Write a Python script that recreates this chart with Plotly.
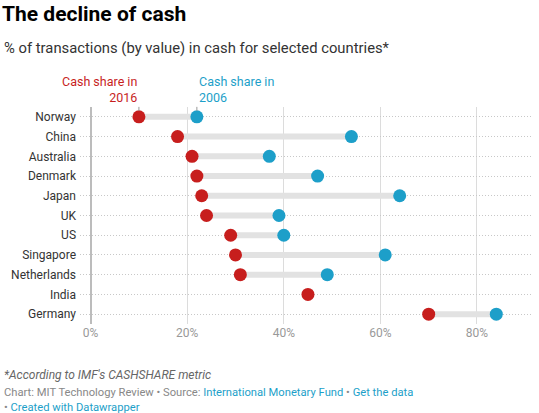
import plotly.graph_objects as go

countries = ['Norway', 'China', 'Australia', 'Denmark', 'Japan', 'UK', 'US',
             'Singapore', 'Netherlands', 'India', 'Germany']
share_2016 = [10, 18, 21, 22, 23, 24, 29, 30, 31, 45, 70]
share_2006 = [22, 54, 37, 47, 64, 39, 40, 61, 49, None, 84]
tick_vals = [0, 20, 40, 60, 80]
tick_text = ['0%', '20%', '40%', '60%', '80%']

red = '#c71e1d'
blue = '#1d9fc9'
font = 'Roboto'

fig = go.Figure()

# grey connectors between the two years
for c, a, b in zip(countries, share_2016, share_2006):
    if b is None:
        continue
    fig.add_trace(go.Scatter(x=[a, b], y=[c, c], mode='lines',
                             line=dict(color='#e2e2e2', width=6),
                             hoverinfo='skip', showlegend=False))

fig.add_trace(go.Scatter(x=share_2006, y=countries, mode='markers', name='2006',
                         marker=dict(color=blue, size=13), showlegend=False))
fig.add_trace(go.Scatter(x=share_2016, y=countries, mode='markers', name='2016',
                         marker=dict(color=red, size=13), showlegend=False))

fig.update_layout(
    width=539, height=413,
    margin=dict(l=80, r=6, t=107, b=89),
    paper_bgcolor='white', plot_bgcolor='white',
    font=dict(family=font, color='#333333', size=12),
)
fig.update_xaxes(range=[-2.2, 91.6], tickvals=tick_vals, ticktext=tick_text,
                 showgrid=True, gridcolor='#dcdcdc', gridwidth=1,
                 zeroline=True, zerolinecolor='#bcbcbc', zerolinewidth=1.5,
                 tickfont=dict(color='#999999', size=12), ticks='', showline=False)
fig.update_yaxes(categoryorder='array', categoryarray=countries, autorange=False,
                 range=[10.5, -0.5], showgrid=True, gridcolor='#c8c8c8',
                 griddash='1px,2px', gridwidth=1, ticks='', ticklabelstandoff=3,
                 tickfont=dict(color='#333333', size=12), showline=False)

# titles
fig.add_annotation(text='<b>The decline of cash</b>', xref='paper', yref='paper',
                   x=-80 / 453, y=1 + 93 / 217, xanchor='left', yanchor='middle',
                   showarrow=False, font=dict(size=21, color='#000000', family=font))
fig.add_annotation(text='% of transactions (by value) in cash for selected countries*',
                   xref='paper', yref='paper', x=-78 / 453, y=1 + 59 / 217,
                   xanchor='left', yanchor='middle', showarrow=False,
                   font=dict(size=14.8, color='#333333', family=font))

# direct labels for the two series
fig.add_annotation(text='Cash share in<br>2016', x=share_2016[0], y=countries[0],
                   ax=0, ay=-10, xanchor='right', yanchor='bottom', align='right',
                   showarrow=True, arrowhead=0, arrowwidth=1, arrowcolor='#999999',
                   standoff=6, font=dict(size=12.5, color=red, family=font))
fig.add_annotation(text='Cash share in<br>2006', x=share_2006[0], y=countries[0],
                   ax=0, ay=-10, xanchor='left', yanchor='bottom', align='left',
                   showarrow=True, arrowhead=0, arrowwidth=1, arrowcolor='#999999',
                   standoff=6, font=dict(size=12.5, color=blue, family=font))

# footer
fig.add_annotation(text="<i>*According to IMF's CASHSHARE metric</i>",
                   xref='paper', yref='paper', x=-78 / 453, y=-51 / 217,
                   xanchor='left', yanchor='middle', showarrow=False,
                   font=dict(size=12, color='#666666', family=font))
fig.add_annotation(text="Chart: MIT Technology Review • Source: "
                        "<span style='color:#1d9fc9'>International Monetary Fund</span> • "
                        "<span style='color:#1d9fc9'>Get the data</span><br>"
                        "• <span style='color:#1d9fc9'>Created with Datawrapper</span>",
                   xref='paper', yref='paper', x=-78 / 453, y=-75.5 / 217,
                   xanchor='left', yanchor='middle', align='left', showarrow=False,
                   font=dict(size=11.2, color='#888888', family=font))

fig.write_html("out.html", config={'displayModeBar': False},
               post_script="document.body.style.margin='0';")
